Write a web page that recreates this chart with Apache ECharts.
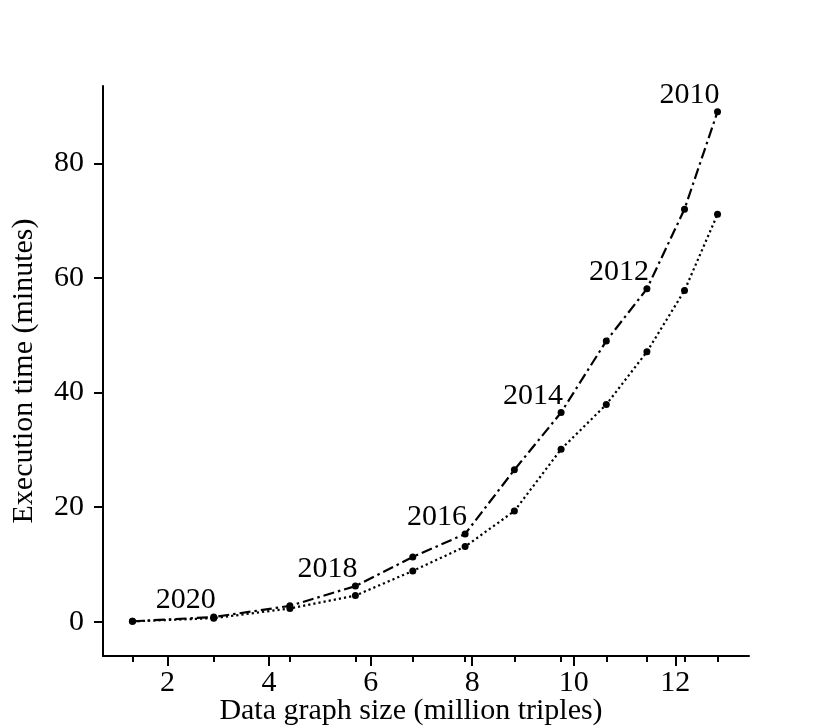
<!DOCTYPE html>
<html>
<head>
<meta charset="utf-8">
<script src="https://cdn.jsdelivr.net/npm/echarts@6/dist/echarts.min.js"></script>
<style>html,body{margin:0;padding:0;background:#fff}#c{width:830px;height:727px}</style>
</head>
<body>
<div id="c"></div>
<script>
const sizes = [1.31, 2.91, 4.41, 5.70, 6.83, 7.86, 8.83, 9.75, 10.64, 11.44, 12.18, 12.83];
const timeA = [0.05, 0.8, 2.75, 6.2, 11.3, 15.3, 26.5, 36.5, 49.0, 58.1, 72.0, 89.0];
const timeB = [0.05, 0.6, 2.3, 4.55, 8.85, 13.1, 19.3, 30.1, 37.9, 47.1, 57.8, 71.1];
const years = ['', '2020', '', '2018', '', '2016', '', '2014', '', '2012', '', '2010'];
const xTicks = [2, 4, 6, 8, 10, 12];
const yTicks = [0, 20, 40, 60, 80];

const FONT = '"Liberation Serif", "DejaVu Serif", serif';
const chart = echarts.init(document.getElementById('c'), null, {renderer: 'canvas'});

const dataA = sizes.map((x, i) => ({
  value: [x, timeA[i]],
  label: {show: years[i] !== '', formatter: years[i]}
}));
const dataB = sizes.map((x, i) => [x, timeB[i]]);

chart.setOption({
  animation: false,
  backgroundColor: '#fff',
  grid: {left: 103, right: 81, top: 86, bottom: 71, containLabel: false, outerBoundsMode: 'none'},
  xAxis: [{
    type: 'value', min: 0.73, max: 13.45,
    name: 'Data graph size (million triples)', nameLocation: 'middle', nameGap: 40, nameMoveOverlap: false,
    nameTextStyle: {fontFamily: FONT, fontSize: 30, color: '#000', padding: [0, 30, 0, 0]},
    axisLine: {show: true, onZero: false, lineStyle: {color: '#000', width: 2}},
    axisTick: {show: true, length: 10, customValues: xTicks, lineStyle: {color: '#000', width: 2}},
    axisLabel: {customValues: xTicks, margin: 12, fontFamily: FONT, fontSize: 30, color: '#000'},
    splitLine: {show: false}
  }, {
    type: 'value', min: 0.73, max: 13.45, position: 'bottom',
    axisLine: {show: false, onZero: false},
    axisTick: {show: true, length: 6, customValues: sizes, lineStyle: {color: '#000', width: 2}},
    axisLabel: {show: false},
    splitLine: {show: false}
  }],
  yAxis: {
    type: 'value', min: -6, max: 93.5,
    name: 'Execution time (minutes)', nameLocation: 'middle', nameGap: 64, nameMoveOverlap: false,
    nameTextStyle: {fontFamily: FONT, fontSize: 30, color: '#000'},
    axisLine: {show: true, onZero: false, lineStyle: {color: '#000', width: 2}},
    axisTick: {show: true, length: 9, customValues: yTicks, lineStyle: {color: '#000', width: 2}},
    axisLabel: {customValues: yTicks, margin: 19, fontFamily: FONT, fontSize: 30, color: '#000'},
    splitLine: {show: false}
  },
  series: [{
    type: 'line', xAxisIndex: 0, data: dataA,
    symbol: 'circle', symbolSize: 7,
    itemStyle: {color: '#000'},
    lineStyle: {color: '#000', width: 2.2, type: [11, 4, 2.5, 4]},
    label: {position: 'top', distance: 5, offset: [-28, 7], fontFamily: FONT, fontSize: 30, color: '#000'},
    z: 3
  }, {
    type: 'line', xAxisIndex: 0, data: dataB,
    symbol: 'circle', symbolSize: 7,
    itemStyle: {color: '#000'},
    lineStyle: {color: '#000', width: 2.2, type: [2.2, 3]},
    z: 2
  }]
});
</script>
</body>
</html>
